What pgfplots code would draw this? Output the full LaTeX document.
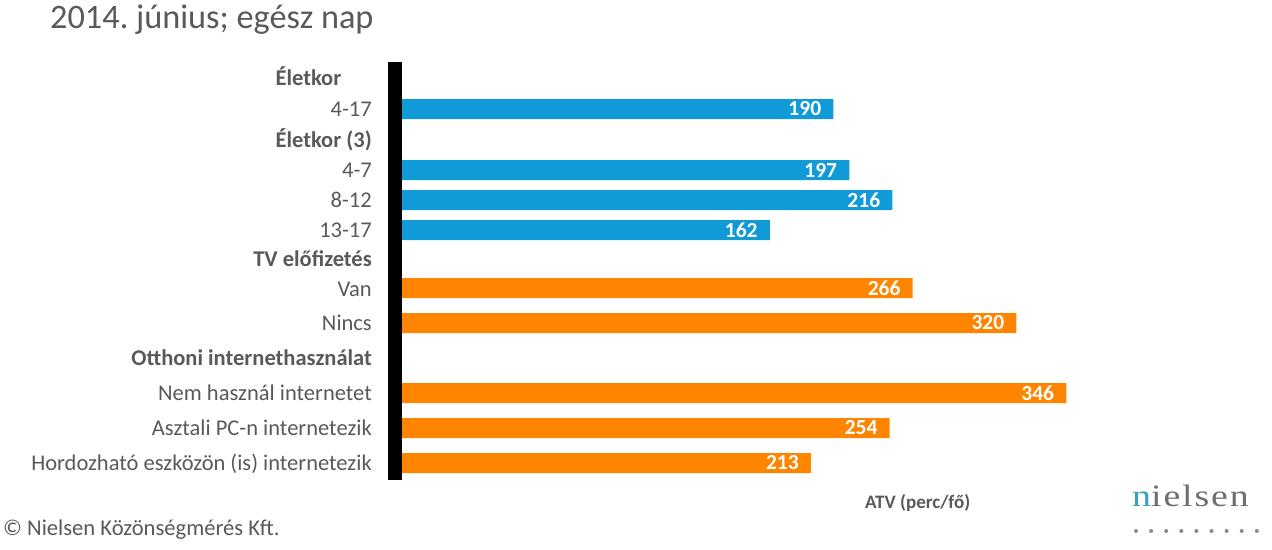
\documentclass[border=0pt]{standalone}
\usepackage{pgfplots}
\pgfplotsset{compat=1.18}
\usepackage{fontspec}
\setmainfont{Carlito}
\newfontfamily\logofont{Liberation Serif}
\frenchspacing
\definecolor{cblue}{HTML}{109BD8}
\definecolor{corange}{HTML}{FF8500}
\definecolor{tgray}{HTML}{595959}
\definecolor{lblue}{HTML}{3A9EC6}
\definecolor{lgray}{HTML}{6E6E6E}
\pgfplotsset{base/.style={at={(402pt,69pt)}, anchor=south west, scale only axis,
  width=845pt, height=418pt, xmin=0, ymin=62, ymax=480, y dir=reverse,
  axis lines*=left, axis line style={draw=none}, major tick length=0pt,
  xtick=\empty, xbar, bar width=20pt, point meta=x, nodes near coords,
  nodes near coords style={anchor=east, xshift=-12pt, inner sep=0pt, text=white,
    font=\bfseries\fontsize{21.5}{21.5}\selectfont},
  /pgf/number format/assume math mode=true, clip=false}}
\pgfplotstableread{
p v
109 190
170 197
200 216
230 162
}\bluedata
\pgfplotstableread{
p v
288 266
323 320
393 346
428 254
463 213
}\orangedata
\begin{document}
\begin{tikzpicture}
\path[use as bounding box] (0,0) rectangle (1272pt,549pt);
\begin{axis}[base, xmax=372.2,
  ytick={78,109,140,170,200,230,259,289,323,358,393,428,463},
  yticklabels={{\textbf{Életkor\phantom{ (3)}}},4-17,{\textbf{Életkor (3)}},4-7,8-12,13-17,
    {\textbf{TV előfizetés}},Van,Nincs,{\textbf{Otthoni internethasználat}},
    Nem használ internetet,Asztali PC-n internetezik,Hordozható eszközön (is) internetezik},
  yticklabel style={anchor=base east, inner sep=0pt, xshift=-30pt, yshift=-7pt,
    text=tgray, font=\fontsize{22.5}{22.5}\selectfont}]
\addplot[fill=cblue, draw=none] table[x=v,y=p]{\bluedata};
\end{axis}
\begin{axis}[base, xmax=440.1, ytick=\empty]
\addplot[fill=corange, draw=none] table[x=v,y=p]{\orangedata};
\end{axis}
\fill[black] (388pt,69pt) rectangle (402pt,487pt);
\node[anchor=base west, inner sep=0pt, text=tgray, font=\fontsize{34.3}{34.3}\selectfont] at (50pt,520pt) {2014. június; egész nap};
\node[anchor=base west, inner sep=0pt, text=tgray, font=\fontsize{22.6}{22.6}\selectfont] at (3pt,13pt) {© Nielsen Közönségmérés Kft.};
\node[anchor=base west, inner sep=0pt, text=tgray, font=\bfseries\fontsize{19}{19}\selectfont] at (865pt,41pt) {ATV (perc/fő)};
\node[anchor=base west, inner sep=0pt, font=\logofont\fontsize{31}{31}\selectfont] at (1132pt,42pt) {\scalebox{1.22}[1]{\addfontfeature{LetterSpace=5}{\color{lblue}n}{\color{lgray}ielsen}}};
\foreach \i in {0,...,8} {\fill[lgray!80] (1136pt+15.1pt*\i,18pt) circle (2pt);}
\end{tikzpicture}
\end{document}
